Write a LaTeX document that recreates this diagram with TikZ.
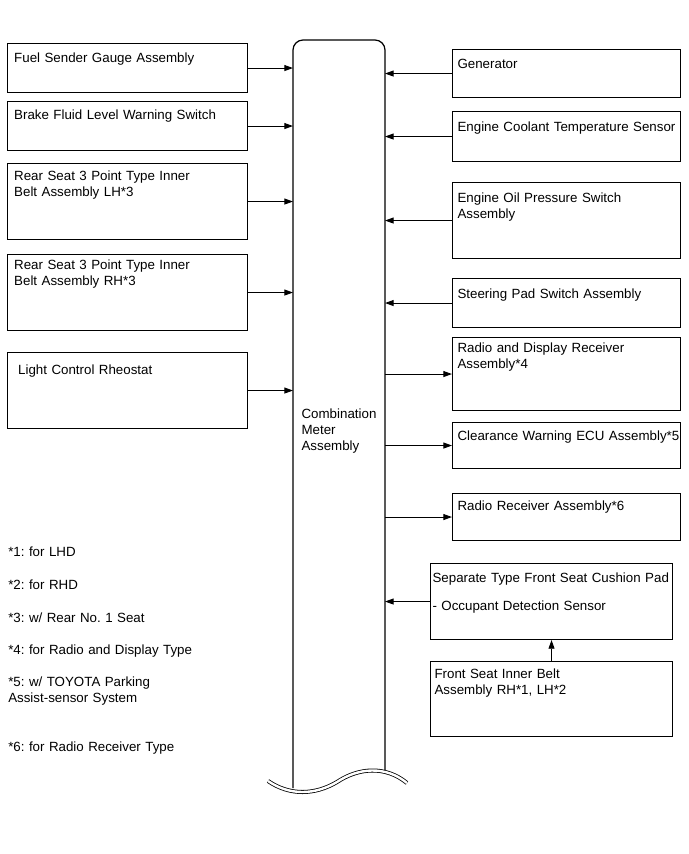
\documentclass[tikz,border=0pt]{standalone}
\usepackage{fontspec}
\setmainfont{Liberation Sans}
\usepackage{tikz}
\usetikzlibrary{arrows.meta}
\frenchspacing

\tikzset{
  unitbox/.style 2 args={draw, line width=0.8pt, anchor=north west, align=left,
    inner ysep=0pt, text height={0.75pt*#2+3.6pt}, text depth={0.75pt*(#1-#2)-3.6pt}},
  lbox/.style 2 args={unitbox={#1}{#2}, inner xsep=5pt, text width=170pt},
  rbox/.style 2 args={unitbox={#1}{#2}, inner xsep=3.75pt, text width=163.5pt},
  sbox/.style 2 args={unitbox={#1}{#2}, inner xsep=3pt, text width=175.5pt},
  conn/.style={-{Triangle[length=6.5pt,width=4.5pt]}, line width=0.7pt},
  note/.style={anchor=base west, inner sep=0pt, align=left, text width=200pt},
}

\begin{document}
\begin{tikzpicture}[x=0.75pt, y=-0.75pt, font=\fontsize{10pt}{12pt}\selectfont]
  \useasboundingbox (0,0) rectangle (689,854);

  % Combination meter bar
  \coordinate (barL) at (293,40);
  \coordinate (barR) at (385,40);
  \draw[line width=0.9pt, rounded corners=7.5pt] (293,788) -- (barL) -- (barR) -- (385,770);
  \draw[double=white, double distance=1.8pt, line width=0.6pt]
    (268,781) .. controls (290,796) and (315,795) .. (337,782)
    .. controls (358,768) and (385,765) .. (407,783);
  \node[align=left] (meter) at (339,431) {Combination\\Meter\\Assembly};

  % Inputs, left side
  \node[lbox={49}{14}] (fuel) at (7,43) {Fuel Sender Gauge Assembly};
  \node[lbox={49}{13}] (brake) at (7,101) {Brake Fluid Level Warning Switch};
  \node[lbox={76}{12}] (rsl) at (7,163) {Rear Seat 3 Point Type Inner\\Belt Assembly LH*3};
  \node[lbox={76}{10}] (rsr) at (7,254) {Rear Seat 3 Point Type Inner\\Belt Assembly RH*3};
  \node[lbox={76}{17}] (rheo) at (7,352) {\hspace*{3pt}Light Control Rheostat};

  \foreach \n in {fuel,brake,rsl,rsr,rheo}
    \draw[conn] (\n.east) -- (\n.east -| barL);

  % Inputs, right side
  \node[rbox={48}{14}] (gen) at (452,49) {Generator};
  \node[rbox={50}{15}] (cool) at (452,111) {Engine Coolant Temperature Sensor};
  \node[rbox={76}{15}] (oil) at (452,182) {Engine Oil Pressure Switch\\Assembly};
  \node[rbox={49}{15}] (steer) at (452,278) {Steering Pad Switch Assembly};

  \foreach \n in {gen,cool,oil,steer}
    \draw[conn] (\n.west) -- (\n.west -| barR);

  % Outputs, right side
  \node[rbox={73}{10}] (radisp) at (452,337) {Radio and Display Receiver\\Assembly*4};
  \node[rbox={46}{13}] (clear) at (452,422) {\mbox{Clearance Warning ECU Assembly*5}};
  \node[rbox={47}{12}] (radio) at (452,493) {Radio Receiver Assembly*6};

  \foreach \n in {radisp,clear,radio}
    \draw[conn] (\n.west -| barR) -- (\n.west);

  % Seat sensor chain
  \node[sbox={76}{14}] (cushion) at (430,563) {\hspace*{-1.5pt}\mbox{Separate Type Front Seat Cushion Pad}\\[9pt]\hspace*{-1.5pt}- Occupant Detection Sensor};
  \node[sbox={75}{12}] (inner) at (430,661) {Front Seat Inner Belt\\Assembly RH*1, LH*2};
  \draw[conn] (cushion.west) -- (cushion.west -| barR);
  \draw[conn] (inner.north) -- (cushion.south);

  % Notes
  \node[note] (n1) at (8,556) {*1: for LHD};
  \node[note] (n2) at (8,589) {*2: for RHD};
  \node[note] (n3) at (8,622) {*3: w/ Rear No. 1 Seat};
  \node[note] (n4) at (8,654) {*4: for Radio and Display Type};
  \node[note] (n5) at (8,686) {*5: w/ TOYOTA Parking\\Assist-sensor System};
  \node[note] (n6) at (8,751) {*6: for Radio Receiver Type};
\end{tikzpicture}
\end{document}
